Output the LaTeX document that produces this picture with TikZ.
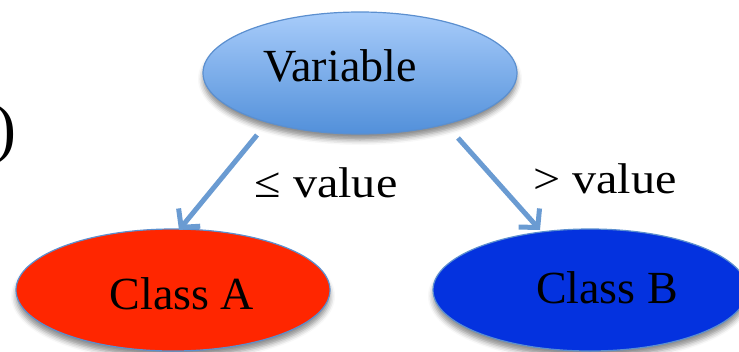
\documentclass[tikz,border=0pt]{standalone}
\usepackage{fontspec}
\setmainfont{Liberation Serif}
\usetikzlibrary{shapes.geometric,arrows.meta,shadows.blur}
\definecolor{edgeblue}{HTML}{5B8FCF}
\definecolor{arrowblue}{HTML}{6A9BD2}
\definecolor{vartop}{HTML}{A8CCFA}
\definecolor{varbot}{HTML}{5290DA}
\definecolor{classred}{HTML}{FF2600}
\definecolor{classblue}{HTML}{0432DF}
\tikzset{
  oval/.style={ellipse, draw=edgeblue, line width=1.2pt, inner sep=0pt,
    minimum width=314pt, minimum height=122pt,
    blur shadow={shadow xshift=0pt, shadow yshift=-6pt, shadow blur radius=5pt, shadow opacity=45}},
  bigtext/.style={font=\rmfamily\fontsize{46}{46}\selectfont, inner sep=0pt, anchor=base},
  labtext/.style={font=\rmfamily\fontsize{43}{43}\selectfont, inner sep=0pt, anchor=base},
  branch/.style={draw=arrowblue, line width=5pt, -{Straight Barb[length=13pt,width=28pt]}},
}
\begin{document}
\begin{tikzpicture}[x=1pt,y=-1pt]
\useasboundingbox (0,0) rectangle (739,351);
\node[oval, top color=vartop, bottom color=varbot] (var) at (360,73) {};
\node[oval, fill=classred] (clsA) at (173,290) {};
\node[oval, fill=classblue] (clsB) at (590,290) {};
\node[bigtext] (varT) at (340,81) {Variable};
\node[bigtext] (clsAT) at (182,309) {Class A};
\node[bigtext] (clsBT) at (607,303) {Class B};
\node[labtext] (leT) at (326,197) {\scalebox{1.12}[1]{≤ value}};
\node[labtext] (gtT) at (605,193) {\scalebox{1.12}[1]{> value}};
\node[font=\rmfamily\fontsize{66}{66}\selectfont, inner sep=0pt, anchor=base east] (paren) at (17,150) {)};
\coordinate (aS) at (257,135);
\coordinate (aE) at (179,230);
\coordinate (bS) at (458,138);
\coordinate (bE) at (540,230);
\draw[branch] (aS) -- (aE);
\draw[branch] (bS) -- (bE);
\end{tikzpicture}
\end{document}
